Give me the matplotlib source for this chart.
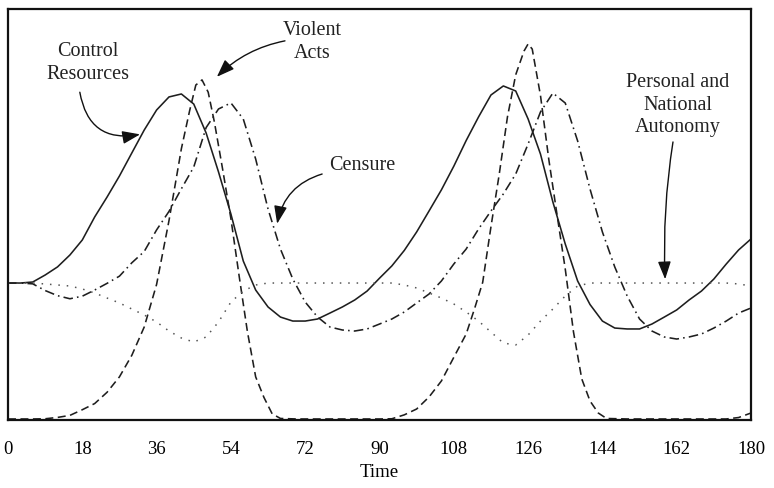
import matplotlib
matplotlib.use("Agg")
import matplotlib.pyplot as plt

# ---------------- data ----------------
time = list(range(0, 181, 3))

control_resources = [
    1.333, 1.333, 1.343, 1.411, 1.490, 1.606, 1.752, 1.976, 2.170, 2.375,
    2.599, 2.822, 3.017, 3.144, 3.173, 3.075, 2.793, 2.414, 2.005, 1.547,
    1.265, 1.100, 1.002, 0.963, 0.963, 0.983, 1.041, 1.100, 1.168, 1.255,
    1.380, 1.500, 1.650, 1.830, 2.034, 2.240, 2.470, 2.720, 2.950, 3.163,
    3.251, 3.202, 2.930, 2.588, 2.122, 1.713, 1.353, 1.124, 0.963, 0.895,
    0.886, 0.886, 0.934, 1.002, 1.071, 1.168, 1.255, 1.372, 1.518, 1.655,
    1.762,
]

censure = [
    1.333, 1.333, 1.325, 1.260, 1.210, 1.180, 1.205, 1.265, 1.330, 1.400,
    1.530, 1.640, 1.850, 2.030, 2.250, 2.462, 2.846, 3.027, 3.086, 2.929,
    2.540, 2.053, 1.664, 1.372, 1.148, 1.002, 0.905, 0.876, 0.866, 0.886,
    0.934, 0.983, 1.051, 1.139, 1.226, 1.353, 1.518, 1.664, 1.859, 2.034,
    2.200, 2.394, 2.686, 2.998, 3.182, 3.085, 2.716, 2.248, 1.830, 1.489,
    1.207, 0.983, 0.866, 0.808, 0.788, 0.808, 0.837, 0.895, 0.963, 1.041,
    1.090,
]

autonomy = [
    1.333, 1.333, 1.333, 1.324, 1.314, 1.304, 1.275, 1.236, 1.187, 1.139,
    1.080, 1.022, 0.954, 0.866, 0.798, 0.759, 0.808, 0.954, 1.148, 1.255,
    1.314, 1.333, 1.333, 1.333, 1.333, 1.333, 1.333, 1.333, 1.333, 1.333,
    1.333, 1.333, 1.314, 1.285, 1.236, 1.187, 1.129, 1.051, 0.963, 0.856,
    0.749, 0.730, 0.827, 0.963, 1.080, 1.207, 1.304, 1.333, 1.333, 1.333,
    1.333, 1.333, 1.333, 1.333, 1.333, 1.333, 1.333, 1.333, 1.333, 1.324,
    1.304,
]

violent_time = [
    0, 6, 9, 12, 15, 18, 21, 24, 27, 30, 33, 36, 39, 42, 44, 45.5, 47, 48.5,
    50, 52, 54, 56, 58, 60, 62, 64, 66, 70, 90, 93, 96, 99, 102, 105, 108,
    111, 113, 115, 117, 119, 121, 123, 125, 126, 127, 129, 131, 133, 135,
    137, 139, 141, 143, 145, 150, 174, 177, 180,
]
violent_acts = [
    0.010, 0.010, 0.012, 0.025, 0.045, 0.100, 0.160, 0.270, 0.420, 0.630,
    0.905, 1.320, 1.940, 2.640, 3.010, 3.260, 3.310, 3.190, 2.900, 2.440,
    1.960, 1.400, 0.860, 0.420, 0.220, 0.060, 0.015, 0.010, 0.010, 0.012,
    0.050, 0.107, 0.224, 0.380, 0.610, 0.837, 1.080, 1.340, 1.880, 2.390,
    2.950, 3.360, 3.590, 3.660, 3.610, 3.158, 2.540, 2.000, 1.470, 0.856,
    0.400, 0.185, 0.068, 0.015, 0.010, 0.010, 0.024, 0.068,
]

x_ticks = [0, 18, 36, 54, 72, 90, 108, 126, 144, 162, 180]
x_label = "Time"

# ---------------- figure ----------------
plt.rcParams["font.family"] = ["Liberation Serif", "DejaVu Serif"]

fig = plt.figure(figsize=(7.74, 4.89), dpi=100)
ax = fig.add_axes([8 / 774, 1 - 421 / 489, 743 / 774, 411 / 489])

ink = "#1e1e1e"
ax.plot(time, control_resources, color=ink, lw=1.15, ls="-")
ax.plot(violent_time, violent_acts, color=ink, lw=1.15, ls=(0, (5, 2.8)))
ax.plot(time, censure, color=ink, lw=1.15, ls=(0, (6, 2.6, 1, 2.6)))
ax.plot(time, autonomy, color="#555555", lw=1.1, ls=(0, (1, 4.5)))

ax.set_xlim(0, 180)
ax.set_ylim(0, 4)
ax.set_xticks(x_ticks)
ax.set_xticks(list(range(9, 180, 18)), minor=True)
ax.set_yticks([1, 2, 3])
ax.set_yticklabels([])
ax.tick_params(axis="both", which="both", direction="inout", length=5,
               width=1.0, color="white", top=True, right=True)
ax.tick_params(axis="x", which="major", labelsize=13.5, pad=12)
for s in ax.spines.values():
    s.set_linewidth(1.6)
    s.set_color("#111111")
ax.set_xlabel(x_label, fontsize=13.5, labelpad=4)

afs = 14.5
arrow = dict(arrowstyle="-|>,head_length=0.6,head_width=0.22",
             color="#111111", lw=1.0, mutation_scale=18,
             shrinkA=0, shrinkB=0)

ax.text(19.4, 3.484, "Control\nResources", ha="center", va="center",
        fontsize=afs, linespacing=1.25, color="#222222")
ax.annotate("", xy=(32.0, 2.78), xytext=(17.4, 3.19),
            arrowprops=dict(arrow, connectionstyle="arc3,rad=0.5"))

ax.text(73.6, 3.689, "Violent\nActs", ha="center", va="center",
        fontsize=afs, linespacing=1.25, color="#222222")
ax.annotate("", xy=(50.6, 3.34), xytext=(67.1, 3.69),
            arrowprops=dict(arrow, connectionstyle="arc3,rad=0.15"))

ax.text(85.8, 2.49, "Censure", ha="center", va="center",
        fontsize=afs, color="#222222")
ax.annotate("", xy=(65.2, 1.91), xytext=(76.1, 2.394),
            arrowprops=dict(arrow, connectionstyle="arc3,rad=0.3"))

ax.text(162.3, 3.075, "Personal and\nNational\nAutonomy", ha="center",
        va="center", fontsize=afs, linespacing=1.25, color="#222222")
ax.annotate("", xy=(159.2, 1.37), xytext=(161.1, 2.706),
            arrowprops=dict(arrow, connectionstyle="arc3,rad=0.05"))

fig.savefig("out.png", dpi=100)
